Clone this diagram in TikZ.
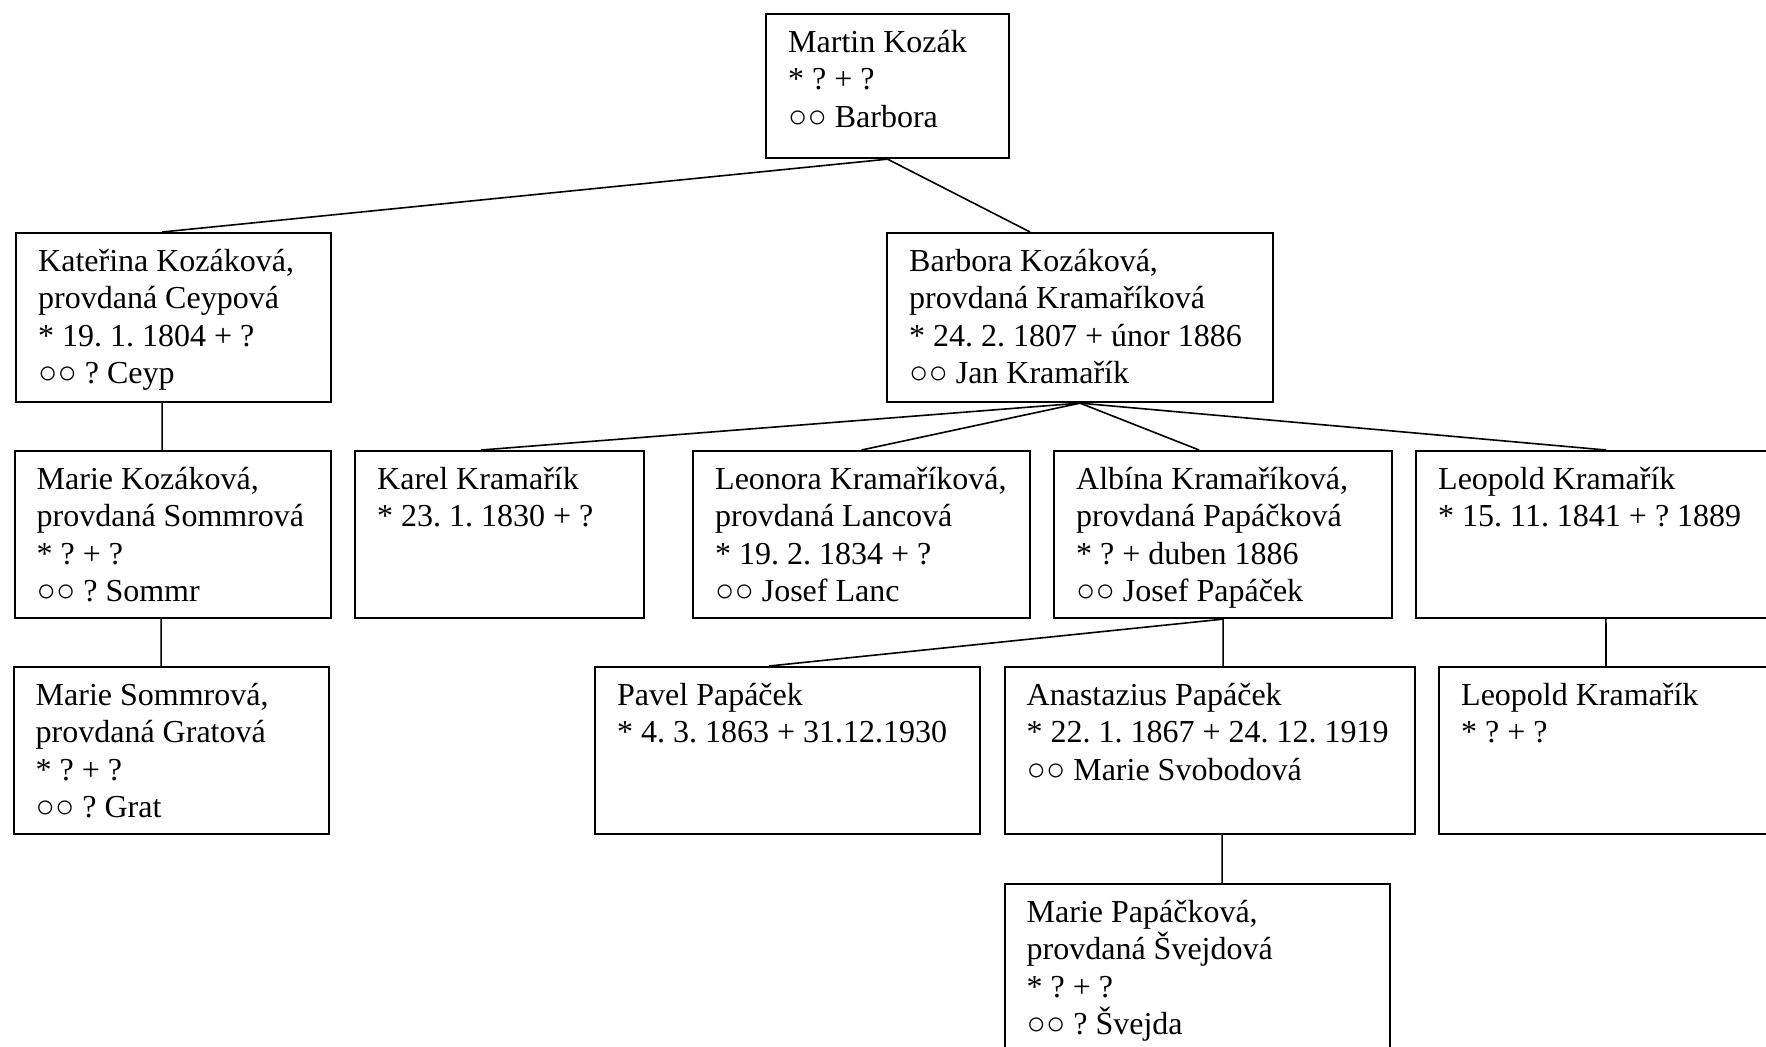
\documentclass[tikz,border=0pt]{standalone}
\usepackage{fontspec}
\setmainfont{Liberation Serif}
\frenchspacing
\begin{document}
\begin{tikzpicture}[x=0.375pt,y=-0.375pt,
	person/.style 2 args={draw,line width=0.8pt,anchor=north west,align=left,inner sep=0pt,
		font=\fontsize{12}{14}\selectfont,text width=#1*0.375pt,
		text height=14.4pt,text depth={(#2-38.4)*0.375pt},
		execute at begin node={\leftskip=8.3pt\spaceskip=3pt\xspaceskip=3pt}},
	link/.style={line width=0.6pt}]
	%	\draw[very thin,gray!40] (0,0) grid[xstep=100,ystep=100] (1766,1047);
	\useasboundingbox (0,0) rectangle (1766,1047);
	\node[person={243}{144}] (martin) at (765,13) {Martin Kozák\\{}* ? + ?\\○○ Barbora};
	\node[person={315}{169}] (kat) at (15,232) {Kateřina Kozáková,\\provdaná Ceypová\\{}* 19. 1. 1804 + ?\\○○ ? Ceyp};
	\node[person={386}{169}] (barb) at (886,232) {Barbora Kozáková,\\provdaná Kramaříková\\{}* 24. 2. 1807 + únor 1886\\○○ Jan Kramařík};
	\node[person={316}{167}] (mariek) at (13.5,450) {Marie Kozáková,\\provdaná Sommrová\\{}* ? + ?\\○○ ? Sommr};
	\node[person={289}{167}] (karel) at (354,450) {Karel Kramařík\\{}* 23. 1. 1830 + ?};
	\node[person={337}{167}] (leonora) at (692,450) {Leonora Kramaříková,\\provdaná Lancová\\{}* 19. 2. 1834 + ?\\○○ Josef Lanc};
	\node[person={338}{167}] (albina) at (1053,450) {Albína Kramaříková,\\provdaná Papáčková\\{}* ? + duben 1886\\○○ Josef Papáček};
	\node[person={400}{167}] (leopold) at (1415,450) {Leopold Kramařík\\{}* 15. 11. 1841 + ? 1889};
	\node[person={315}{167}] (maries) at (12.5,666) {Marie Sommrová,\\provdaná Gratová\\{}* ? + ?\\○○ ? Grat};
	\node[person={385}{167}] (pavel) at (594,666) {Pavel Papáček\\{}* 4. 3. 1863 + 31.12.1930};
	\node[person={410}{167}] (anast) at (1003.5,666) {Anastazius Papáček\\{}* 22. 1. 1867 + 24. 12. 1919\\○○ Marie Svobodová};
	\node[person={400}{167}] (leojr) at (1438,666) {Leopold Kramařík\\{}* ? + ?};
	\node[person={385}{167}] (mariep) at (1003.5,883) {Marie Papáčková,\\provdaná Švejdová\\{}* ? + ?\\○○ ? Švejda};
	% spojnice
	\draw[link] (martin.south) -- ([xshift=-4.3pt]kat.north);
	\draw[link] (martin.south) -- ([xshift=-18.75pt]barb.north);
	\draw[link] ([xshift=-4.3pt]kat.south) -- ([xshift=-3.9pt]mariek.north);
	\draw[link] ([xshift=-4.3pt]mariek.south) -- ([xshift=-3.75pt]maries.north);
	\draw[link] (barb.south) -- ([xshift=-6.9pt]karel.north);
	\draw[link] (barb.south) -- (leonora.north);
	\draw[link] (barb.south) -- ([xshift=-9pt]albina.north);
	\draw[link] (barb.south) -- ([xshift=71.6pt]leopold.north west);
	\draw[link] (albina.south) -- ([xshift=-6.9pt]pavel.north);
	\draw[link] (albina.south) -- ([xshift=5.1pt]anast.north);
	\draw[link] ([xshift=71.6pt]leopold.south west) -- ([xshift=63pt]leojr.north west);
	\draw[link] ([xshift=4.7pt]anast.south) -- ([xshift=9.4pt]mariep.north);
\end{tikzpicture}
\end{document}
